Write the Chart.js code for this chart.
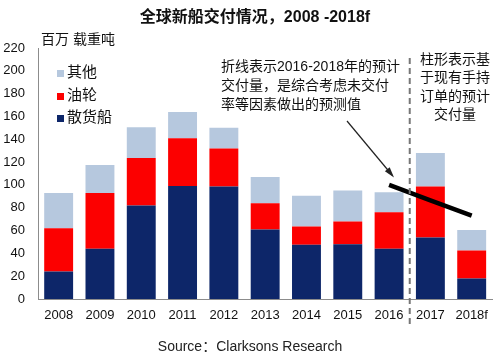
<!DOCTYPE html>
<html>
<head>
<meta charset="utf-8">
<script src="https://cdn.jsdelivr.net/npm/chart.js@4.4.1/dist/chart.umd.min.js"></script>
<style>
  html, body { margin: 0; padding: 0; background: #fff; }
  #wrap { width: 497px; height: 359px; }
</style>
</head>
<body>
<div id="wrap"><canvas id="shipChart"></canvas></div>
<script>
// Datos (millones de TPM)
const years = ['2008', '2009', '2010', '2011', '2012', '2013', '2014', '2015', '2016', '2017', '2018f'];
const bulkers = [24, 44, 82, 99, 98.5, 61, 47.5, 48, 44, 54, 18];
const tankers = [38, 49, 41.5, 42, 33.5, 23, 16, 20, 32, 44.5, 24.5];
const others  = [31, 24.5, 27, 23, 18, 23, 27, 27, 17.5, 29.5, 18];
const forecast = [null, null, null, null, null, null, null, null, 100, 86.5, 73];
const yTicks = [0, 20, 40, 60, 80, 100, 120, 140, 160, 180, 200, 220];

const FONT = '"Liberation Sans", Arial, "Noto Sans CJK SC", sans-serif';
const CJK = '"Liberation Sans", Arial, "Noto Sans CJK SC", sans-serif';

const colors = {
    bulk: '#0d2669',
    tank: '#fc0000',
    other: '#b6c8de'
};

// Textos y anotaciones dibujados a mano
const overlay = {
    id: 'overlay',
    afterDraw(chart) {
        const { ctx, scales: { x, y } } = chart;
        ctx.save();
        ctx.fillStyle = '#111';
        ctx.textBaseline = 'middle';

        // título
        ctx.textAlign = 'center';
        ctx.font = 'bold 16px ' + CJK;
        ctx.fillText('全球新船交付情况，2008 -2018f', 255, 18);

        // título eje y
        ctx.textAlign = 'left';
        ctx.font = '14px ' + CJK;
        ctx.fillText('百万 载重吨', 41, 40);

        // leyenda
        const legend = [['其他', colors.other], ['油轮', colors.tank], ['散货船', colors.bulk]];
        legend.forEach(([label, c], i) => {
            const ly = [73, 96, 118][i];
            ctx.fillStyle = c;
            ctx.fillRect(57, ly - 3, 7, 7);
            ctx.fillStyle = '#111';
            ctx.font = '15px ' + CJK;
            ctx.fillText(label, 67, ly);
        });

        // nota izquierda
        ctx.font = '14px ' + CJK;
        ctx.fillText('折线表示2016-2018年的预计', 221, 67);
        ctx.fillText('交付量，是综合考虑未交付', 221, 86);
        ctx.fillText('率等因素做出的预测值', 221, 105);

        // nota derecha
        ctx.textAlign = 'center';
        ['柱形表示基', '于现有手持', '订单的预计', '交付量'].forEach((t, i) => {
            ctx.fillText(t, 455, 60 + i * 18.5);
        });

        // línea discontinua vertical
        const dx = x.getPixelForValue(8.5);
        ctx.strokeStyle = '#777';
        ctx.lineWidth = 2;
        ctx.setLineDash([6, 4]);
        ctx.beginPath();
        ctx.moveTo(dx, 58);
        ctx.lineTo(dx, 328);
        ctx.stroke();
        ctx.setLineDash([]);

        // flecha
        const x1 = 347, y1 = 121;
        const x2 = 392, y2 = 175;
        ctx.strokeStyle = '#222';
        ctx.fillStyle = '#222';
        ctx.lineWidth = 1.2;
        ctx.beginPath();
        ctx.moveTo(x1, y1);
        ctx.lineTo(x2, y2);
        ctx.stroke();
        const ang = Math.atan2(y2 - y1, x2 - x1);
        ctx.beginPath();
        ctx.moveTo(x2 + 2, y2 + 2.4);
        ctx.lineTo(x2 - 8 * Math.cos(ang - 0.4), y2 - 8 * Math.sin(ang - 0.4));
        ctx.lineTo(x2 - 8 * Math.cos(ang + 0.4), y2 - 8 * Math.sin(ang + 0.4));
        ctx.closePath();
        ctx.fill();

        // fuente
        ctx.fillStyle = '#222';
        ctx.textAlign = 'center';
        ctx.font = '14px ' + CJK;
        ctx.fillText('Source：Clarksons Research', 250, 347);
        ctx.restore();
    }
};

const ctx = document.getElementById('shipChart').getContext('2d');
const shipChart = new Chart(ctx, {
    data: {
        labels: years,
        datasets: [
            {
                type: 'line',
                label: '预测',
                data: forecast,
                borderColor: '#000',
                borderWidth: 4.5,
                pointRadius: 0,
                stack: 'line',
                order: 0
            },
            {
                type: 'bar',
                label: '散货船',
                data: bulkers,
                backgroundColor: colors.bulk,
                stack: 'bars',
                order: 1
            },
            {
                type: 'bar',
                label: '油轮',
                data: tankers,
                backgroundColor: colors.tank,
                stack: 'bars',
                order: 1
            },
            {
                type: 'bar',
                label: '其他',
                data: others,
                backgroundColor: colors.other,
                stack: 'bars',
                order: 1
            }
        ]
    },
    options: {
        responsive: true,
        maintainAspectRatio: false,
        animation: false,
        layout: {
            padding: { top: 48, right: 1, bottom: 30, left: 0 }
        },
        datasets: {
            bar: {
                categoryPercentage: 1,
                barPercentage: 0.7
            }
        },
        scales: {
            x: {
                stacked: true,
                grid: { display: false, drawTicks: false },
                border: { color: '#8c8c8c', width: 1 },
                ticks: {
                    color: '#111',
                    font: { family: FONT, size: 13 },
                    padding: 9,
                    maxRotation: 0,
                    autoSkip: false
                },
                afterFit(scale) { scale.height = 30; }
            },
            y: {
                stacked: true,
                min: 0,
                max: 220,
                afterBuildTicks(scale) {
                    scale.ticks = yTicks.map(v => ({ value: v }));
                },
                grid: { display: false, drawTicks: false },
                border: { color: '#8c8c8c', width: 1 },
                ticks: {
                    color: '#111',
                    font: { family: FONT, size: 13 },
                    padding: 13
                },
                afterFit(scale) { scale.width = 38; }
            }
        },
        plugins: {
            legend: { display: false },
            tooltip: { enabled: false }
        }
    },
    plugins: [overlay]
});
</script>
</body>
</html>
